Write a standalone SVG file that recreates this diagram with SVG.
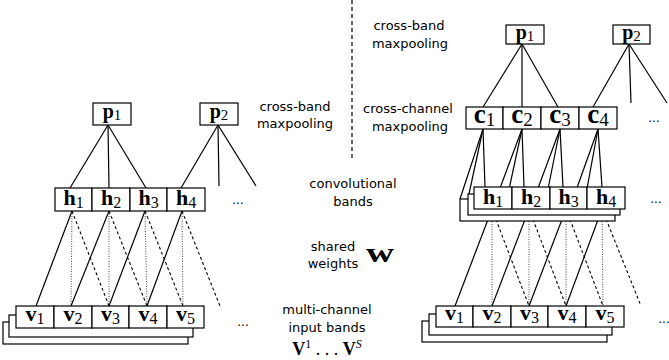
<svg xmlns="http://www.w3.org/2000/svg" width="669" height="360" viewBox="0 0 669 360">
<style>
.box{fill:#fff;stroke:#000;stroke-width:1.2}
.ln{stroke:#000;stroke-width:1.2;fill:none}
.dot{stroke:#333;stroke-width:0.9;stroke-dasharray:1 1.5;fill:none}
.dsh{stroke:#000;stroke-width:1.1;stroke-dasharray:3 2.5;fill:none}
.div{stroke:#000;stroke-width:1.2;stroke-dasharray:4 3;fill:none}
.lbl{font-family:"DejaVu Sans",sans-serif;font-size:13px;fill:#000;text-anchor:middle}
.m{font-family:"Liberation Serif","DejaVu Serif",serif;font-weight:bold;font-size:22px;fill:#000;text-anchor:middle}
.mc{font-family:"Liberation Serif","DejaVu Serif",serif;font-weight:bold;font-size:27px;fill:#000;text-anchor:middle}
.mp{font-family:"Liberation Serif","DejaVu Serif",serif;font-weight:bold;font-size:20px;fill:#000;text-anchor:middle}
.sub{font-weight:normal;font-size:16px}
.subc{font-weight:normal;font-size:19px}
.subp{font-weight:normal;font-size:15px}
.ell{font-family:"DejaVu Sans",sans-serif;font-size:12px;fill:#000;text-anchor:middle}
</style>

<g id="connectors">
  <line class="div" x1="352" y1="0" x2="352" y2="161"/>
  <!-- left p -> h -->
  <line class="ln" x1="108" y1="125" x2="70" y2="188"/>
  <line class="ln" x1="108" y1="125" x2="109" y2="188"/>
  <line class="ln" x1="108" y1="125" x2="146" y2="188"/>
  <line class="ln" x1="218" y1="125" x2="181" y2="188"/>
  <line class="ln" x1="218" y1="125" x2="219" y2="186"/>
  <line class="ln" x1="218" y1="125" x2="256" y2="186"/>
  <!-- left h -> v -->
  <line class="ln" x1="72" y1="211" x2="36" y2="306"/>
  <line class="dot" x1="72" y1="211" x2="71" y2="306"/>
  <line class="dsh" x1="72" y1="211" x2="109" y2="306"/>
  <line class="ln" x1="109" y1="211" x2="71" y2="306"/>
  <line class="dot" x1="109" y1="211" x2="109" y2="306"/>
  <line class="dsh" x1="109" y1="211" x2="147" y2="306"/>
  <line class="ln" x1="145" y1="211" x2="109" y2="306"/>
  <line class="dot" x1="145" y1="211" x2="147" y2="306"/>
  <line class="dsh" x1="145" y1="211" x2="183" y2="306"/>
  <line class="ln" x1="182" y1="211" x2="147" y2="306"/>
  <line class="dot" x1="182" y1="211" x2="183" y2="306"/>
  <line class="dsh" x1="182" y1="211" x2="220" y2="306"/>
  <!-- right p -> c -->
  <line class="ln" x1="522" y1="44" x2="483" y2="107"/>
  <line class="ln" x1="522" y1="44" x2="522" y2="107"/>
  <line class="ln" x1="522" y1="44" x2="558" y2="107"/>
  <line class="ln" x1="629" y1="44" x2="593" y2="107"/>
  <line class="ln" x1="629" y1="44" x2="631" y2="103"/>
  <line class="ln" x1="629" y1="44" x2="667" y2="103"/>
  <!-- right c -> h layers -->
  <line class="ln" x1="483" y1="129" x2="485" y2="187"/>
  <line class="ln" x1="483" y1="129" x2="469" y2="194"/>
  <line class="ln" x1="483" y1="129" x2="460" y2="199"/>
  <line class="ln" x1="522" y1="129" x2="524" y2="187"/>
  <line class="ln" x1="522" y1="129" x2="508" y2="194"/>
  <line class="ln" x1="522" y1="129" x2="496" y2="199"/>
  <line class="ln" x1="560" y1="129" x2="563" y2="187"/>
  <line class="ln" x1="560" y1="129" x2="547" y2="194"/>
  <line class="ln" x1="560" y1="129" x2="534" y2="199"/>
  <line class="ln" x1="598" y1="129" x2="602" y2="187"/>
  <line class="ln" x1="598" y1="129" x2="586" y2="194"/>
  <line class="ln" x1="598" y1="129" x2="573" y2="199"/>
  <!-- right h -> v -->
  <line class="ln" x1="492" y1="209" x2="455" y2="306"/>
  <line class="dot" x1="492" y1="209" x2="492" y2="306"/>
  <line class="dsh" x1="492" y1="209" x2="529" y2="306"/>
  <line class="ln" x1="529" y1="209" x2="492" y2="306"/>
  <line class="dot" x1="529" y1="209" x2="529" y2="306"/>
  <line class="dsh" x1="529" y1="209" x2="566" y2="306"/>
  <line class="ln" x1="566" y1="209" x2="529" y2="306"/>
  <line class="dot" x1="566" y1="209" x2="566" y2="306"/>
  <line class="dsh" x1="566" y1="209" x2="603" y2="306"/>
  <line class="ln" x1="602" y1="209" x2="566" y2="306"/>
  <line class="dot" x1="602" y1="209" x2="603" y2="306"/>
  <line class="dsh" x1="602" y1="209" x2="641" y2="306"/>
</g>

<!-- left panel nodes -->
<g id="L-p1"><rect class="box" x="93" y="103" width="38" height="22"/><text class="mp" x="112" y="118">p<tspan class="subp" dy="2">1</tspan></text></g>
<g id="L-p2"><rect class="box" x="200" y="103" width="38" height="22"/><text class="mp" x="219" y="118">p<tspan class="subp" dy="2">2</tspan></text></g>

<g id="L-h1"><rect class="box" x="55" y="188" width="37" height="23"/><text class="m" x="73.5" y="205">h<tspan class="sub" dy="3">1</tspan></text></g>
<g id="L-h2"><rect class="box" x="92" y="188" width="38" height="23"/><text class="m" x="111" y="205">h<tspan class="sub" dy="3">2</tspan></text></g>
<g id="L-h3"><rect class="box" x="130" y="188" width="37" height="23"/><text class="m" x="148.5" y="205">h<tspan class="sub" dy="3">3</tspan></text></g>
<g id="L-h4"><rect class="box" x="167" y="188" width="38" height="23"/><text class="m" x="186" y="205">h<tspan class="sub" dy="3">4</tspan></text></g>
<g id="L-hdots"><text class="ell" x="238" y="204">...</text></g>

<g id="L-vstack">
  <rect class="box" x="3" y="322" width="185" height="22"/>
  <rect class="box" x="9" y="315" width="184" height="22"/>
</g>
<g id="L-v1"><rect class="box" x="16" y="306" width="38" height="22"/><text class="m" x="35" y="321">v<tspan class="sub" dy="3">1</tspan></text></g>
<g id="L-v2"><rect class="box" x="54" y="306" width="38" height="22"/><text class="m" x="73" y="321">v<tspan class="sub" dy="3">2</tspan></text></g>
<g id="L-v3"><rect class="box" x="92" y="306" width="37" height="22"/><text class="m" x="110.5" y="321">v<tspan class="sub" dy="3">3</tspan></text></g>
<g id="L-v4"><rect class="box" x="129" y="306" width="38" height="22"/><text class="m" x="148" y="321">v<tspan class="sub" dy="3">4</tspan></text></g>
<g id="L-v5"><rect class="box" x="167" y="306" width="37" height="22"/><text class="m" x="185.5" y="321">v<tspan class="sub" dy="3">5</tspan></text></g>
<g id="L-vdots"><text class="ell" x="243" y="326">...</text></g>

<!-- middle labels -->
<g id="labels">
  <text class="lbl" x="295" y="111">cross-band</text>
  <text class="lbl" x="295" y="128">maxpooling</text>
  <text class="lbl" x="409" y="30">cross-band</text>
  <text class="lbl" x="410" y="48">maxpooling</text>
  <text class="lbl" x="408" y="113">cross-channel</text>
  <text class="lbl" x="410" y="131">maxpooling</text>
  <text class="lbl" x="353" y="188">convolutional</text>
  <text class="lbl" x="353" y="206">bands</text>
  <text class="lbl" x="333" y="251">shared</text>
  <text class="lbl" x="333" y="268">weights</text>
  <text x="366" y="262" font-family="Liberation Serif, DejaVu Serif, serif" font-weight="bold" font-size="27" textLength="28" lengthAdjust="spacingAndGlyphs">w</text>
  <text class="lbl" x="327" y="314">multi-channel</text>
  <text class="lbl" x="327" y="332">input bands</text>
  <text x="327" y="355" font-family="Liberation Serif, DejaVu Serif, serif" font-size="18" text-anchor="middle"><tspan font-weight="bold">V</tspan><tspan font-size="12" dy="-7">1</tspan><tspan dy="7"> . . . </tspan><tspan font-weight="bold">V</tspan><tspan font-size="12" font-style="italic" dy="-7">S</tspan></text>
</g>

<!-- right panel nodes -->
<g id="R-p1"><rect class="box" x="506" y="25" width="38" height="19"/><text class="mp" x="525" y="39">p<tspan class="subp" dy="2">1</tspan></text></g>
<g id="R-p2"><rect class="box" x="613" y="25" width="37" height="19"/><text class="mp" x="631.5" y="39">p<tspan class="subp" dy="2">2</tspan></text></g>

<g id="R-c1"><rect class="box" x="466" y="107" width="37" height="22"/><text class="mc" x="484.5" y="123">c<tspan class="subc" dy="3">1</tspan></text></g>
<g id="R-c2"><rect class="box" x="503" y="107" width="38" height="22"/><text class="mc" x="522" y="123">c<tspan class="subc" dy="3">2</tspan></text></g>
<g id="R-c3"><rect class="box" x="541" y="107" width="38" height="22"/><text class="mc" x="560" y="123">c<tspan class="subc" dy="3">3</tspan></text></g>
<g id="R-c4"><rect class="box" x="579" y="107" width="38" height="22"/><text class="mc" x="598" y="123">c<tspan class="subc" dy="3">4</tspan></text></g>
<g id="R-cdots"><text class="ell" x="654" y="122">...</text></g>

<g id="R-hstack">
  <rect class="box" x="460" y="199" width="155" height="22"/>
  <rect class="box" x="468" y="194" width="152" height="21"/>
</g>
<g id="R-h1"><rect class="box" x="474" y="187" width="38" height="22"/><text class="m" x="493" y="204">h<tspan class="sub" dy="3">1</tspan></text></g>
<g id="R-h2"><rect class="box" x="512" y="187" width="38" height="22"/><text class="m" x="531" y="204">h<tspan class="sub" dy="3">2</tspan></text></g>
<g id="R-h3"><rect class="box" x="550" y="187" width="37" height="22"/><text class="m" x="568.5" y="204">h<tspan class="sub" dy="3">3</tspan></text></g>
<g id="R-h4"><rect class="box" x="587" y="187" width="38" height="22"/><text class="m" x="606" y="204">h<tspan class="sub" dy="3">4</tspan></text></g>
<g id="R-hdots"><text class="ell" x="656" y="203">...</text></g>

<g id="R-vstack">
  <rect class="box" x="422" y="321" width="185" height="21"/>
  <rect class="box" x="429" y="314" width="183" height="21"/>
</g>
<g id="R-v1"><rect class="box" x="436" y="306" width="37" height="21"/><text class="m" x="454.5" y="320">v<tspan class="sub" dy="3">1</tspan></text></g>
<g id="R-v2"><rect class="box" x="473" y="306" width="38" height="21"/><text class="m" x="492" y="320">v<tspan class="sub" dy="3">2</tspan></text></g>
<g id="R-v3"><rect class="box" x="511" y="306" width="37" height="21"/><text class="m" x="529.5" y="320">v<tspan class="sub" dy="3">3</tspan></text></g>
<g id="R-v4"><rect class="box" x="548" y="306" width="38" height="21"/><text class="m" x="567" y="320">v<tspan class="sub" dy="3">4</tspan></text></g>
<g id="R-v5"><rect class="box" x="586" y="306" width="38" height="21"/><text class="m" x="605" y="320">v<tspan class="sub" dy="3">5</tspan></text></g>
<g id="R-vdots"><text class="ell" x="664" y="323">...</text></g>
</svg>
